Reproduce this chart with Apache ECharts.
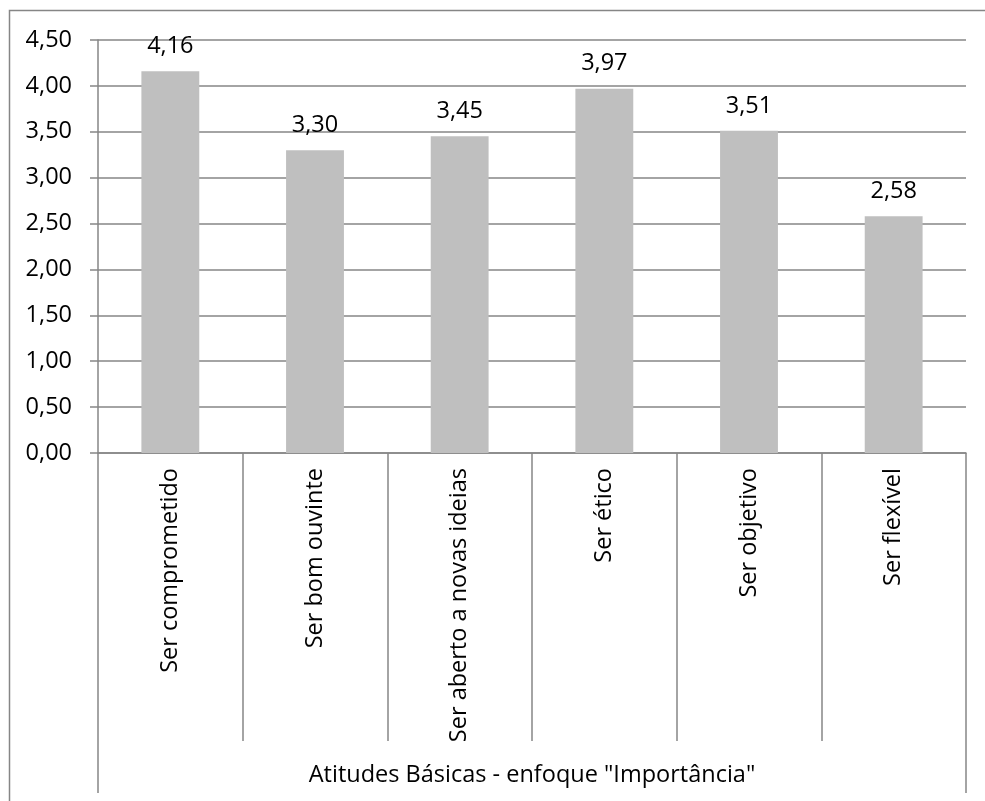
<!DOCTYPE html>
<html>
<head>
<meta charset="utf-8">
<script src="https://cdn.jsdelivr.net/npm/echarts@6/dist/echarts.min.js"></script>
<style>
  html, body { margin: 0; padding: 0; background: #fff; }
  #chart { width: 985px; height: 801px; }
</style>
</head>
<body>
<div id="chart"></div>
<script>
// Atitudes básicas – média de importância atribuída
const categories = [
  'Ser comprometido',
  'Ser bom ouvinte',
  'Ser aberto a novas ideias',
  'Ser ético',
  'Ser objetivo',
  'Ser flexível'
];
const values = [4.16, 3.30, 3.45, 3.97, 3.51, 2.58];
const groupLabel = ['Atitudes Básicas - enfoque "Importância"'];
const yTicks = { min: 0, max: 4.5, step: 0.5 };

const FONT = 'Open Sans';
const FS = 23.5;
const LINE = '#868686';
const fmt = v => v.toFixed(2).replace('.', ',');

const chart = echarts.init(document.getElementById('chart'), null, { renderer: 'canvas' });

chart.setOption({
  animation: false,
  backgroundColor: '#ffffff',
  textStyle: { fontFamily: FONT, color: '#000' },
  grid: { left: 98, right: 19, top: 40, bottom: 348, containLabel: false },
  graphic: [{
    type: 'rect',
    silent: true,
    shape: { x: 9.5, y: 10.5, width: 1200, height: 1200 },
    style: { fill: 'none', stroke: LINE, lineWidth: 1.5 },
    z: -1
  }],
  xAxis: [{
    type: 'category',
    data: categories,
    position: 'bottom',
    axisLine: { show: true, lineStyle: { color: LINE, width: 1.5 } },
    axisTick: { show: true, interval: 0, length: 288, lineStyle: { color: LINE, width: 1.5 } },
    axisLabel: {
      interval: 0,
      rotate: 90,
      margin: 15,
      fontFamily: FONT,
      fontSize: FS,
      color: '#000'
    }
  }, {
    type: 'category',
    data: groupLabel,
    position: 'bottom',
    gridIndex: 0,
    axisLine: { show: false },
    axisTick: { show: true, interval: 0, length: 340, lineStyle: { color: LINE, width: 1.5 } },
    axisLabel: {
      interval: 0,
      margin: 310,
      fontFamily: FONT,
      fontSize: FS,
      color: '#000'
    }
  }],
  yAxis: {
    type: 'value',
    min: yTicks.min,
    max: yTicks.max,
    interval: yTicks.step,
    axisLine: { show: true, lineStyle: { color: LINE, width: 1.5 } },
    axisTick: { show: true, length: 8, lineStyle: { color: LINE, width: 1.5 } },
    splitLine: { show: true, lineStyle: { color: LINE, width: 1.5 } },
    axisLabel: {
      margin: 26,
      fontFamily: FONT,
      fontSize: FS,
      color: '#000',
      formatter: v => fmt(v)
    }
  },
  series: [{
    type: 'bar',
    xAxisIndex: 0,
    data: values,
    barWidth: '40%',
    itemStyle: { color: '#BFBFBF' },
    label: {
      show: true,
      position: 'top',
      distance: 13,
      fontFamily: FONT,
      fontSize: FS,
      color: '#000',
      formatter: p => fmt(p.value)
    }
  }]
});
</script>
</body>
</html>
